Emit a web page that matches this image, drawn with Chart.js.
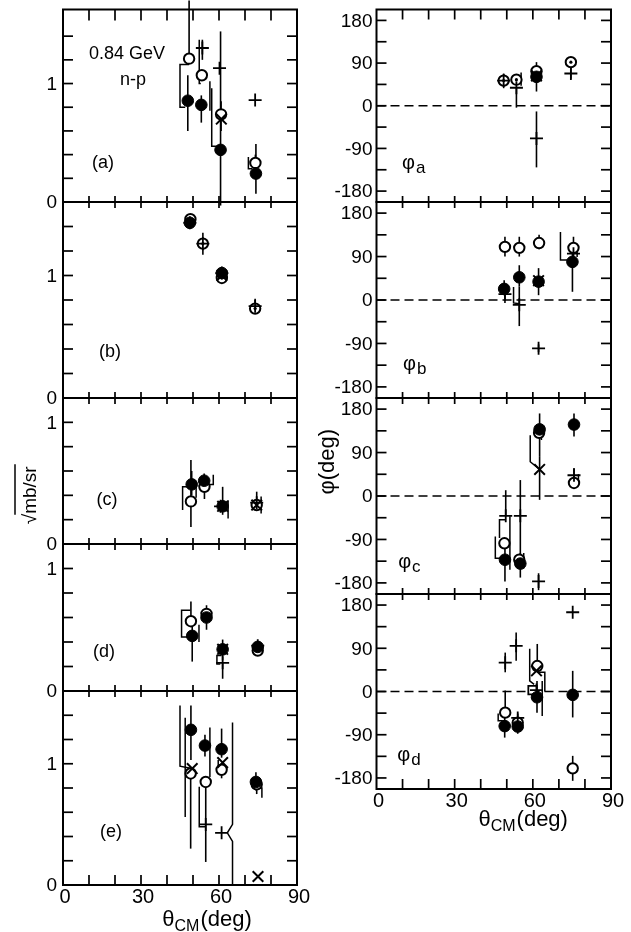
<!DOCTYPE html>
<html>
<head>
<meta charset="utf-8">
<script src="https://cdn.jsdelivr.net/npm/chart.js@4.4.1/dist/chart.umd.min.js"></script>
<style>
  html, body { margin: 0; padding: 0; background: #fff; }
  #fig { position: relative; width: 631px; height: 932px; overflow: hidden; }
  #fig canvas { position: absolute; left: 0; top: 0; }
</style>
</head>
<body>
<div id="fig"></div>
<script>
// ---- axis ticks and labels ----
const thetaMinorTicks = [10, 20, 30, 40, 50, 60, 70, 80];
const thetaTickLabels = [0, 30, 60, 90];
const ampTicksTall = [0.2, 0.4, 0.6, 0.8, 1.0, 1.2, 1.4];
const ampTicksShort = [0.2, 0.4, 0.6, 0.8, 1.0];
const ampTickLabels = [0, 1];
const phaseTicks = [-180, -135, -90, -45, 0, 45, 90, 135, 180];
const phaseTickLabels = [180, 90, 0, -90, -180];

// ---- amplitudes (sqrt(mb/sr)); each entry: [theta_CM, value, errLow, errHigh] ----
const ampA_filled = [[48.0, 0.855, 0.60, 1.07], [53.2, 0.82, 0.67, 0.90], [60.6, 0.44, -0.03, 1.44], [74.2, 0.24, 0.07, 0.49]];
const ampA_open   = [[48.5, 1.21, 1.21, 1.70], [53.4, 1.07], [60.8, 0.74, 0.60, 0.85], [74.0, 0.33, 0.33, 0.40]];
const ampA_plus   = [[53.6, 1.30, 1.20, 1.37], [60.2, 1.13], [73.9, 0.86]];
const ampA_cross  = [[60.9, 0.70]];
const ampA_links  = [
  [[48.5, 1.16], [45.0, 1.16], [45.0, 0.80], [47.0, 0.80]],
  [[52.4, 1.37], [52.4, 1.00], [53.0, 1.00]],
  [[56.5, 1.02], [56.5, 0.77]],
  [[57.2, 0.96], [57.2, 0.47], [60.0, 0.47]],
  [[71.3, 0.38], [71.3, 0.28], [72.8, 0.28]]
];

const ampB_filled = [[48.8, 1.43], [61.1, 1.02]];
const ampB_open   = [[49.0, 1.46], [53.8, 1.26], [61.1, 0.98], [73.9, 0.73]];
const ampB_plus   = [[48.8, 1.43], [53.8, 1.26, 1.17, 1.35], [61.1, 1.02], [73.9, 0.75, 0.75, 0.81]];
const ampB_cross  = [[61.1, 1.00]];
const ampB_dot    = [[53.8, 1.26], [73.9, 0.73]];

const ampC_filled = [[49.5, 0.49, 0.40, 0.60], [54.3, 0.52, 0.45, 0.58], [61.4, 0.31, 0.24, 0.47]];
const ampC_open   = [[49.2, 0.35, 0.14, 0.69], [54.4, 0.47, 0.37, 0.57], [74.5, 0.32, 0.28, 0.43]];
const ampC_plus   = [[60.6, 0.31], [74.5, 0.34]];
const ampC_cross  = [[61.4, 0.31], [74.5, 0.32]];
const ampC_links  = [
  [[49.2, 0.47], [46.0, 0.47], [46.0, 0.28]],
  [[51.2, 0.47], [51.2, 0.38]],
  [[54.6, 0.49], [57.8, 0.49], [57.8, 0.57]],
  [[63.5, 0.36], [63.5, 0.21]],
  [[76.2, 0.39], [76.2, 0.25]]
];

const ampD_filled = [[49.7, 0.45, 0.24, 0.56], [55.2, 0.60, 0.50, 0.70], [61.4, 0.34, 0.25, 0.42], [74.9, 0.36, 0.32, 0.40]];
const ampD_open   = [[49.2, 0.57, 0.57, 0.73], [55.2, 0.63], [74.9, 0.33]];
const ampD_plus   = [[61.4, 0.23, 0.10, 0.23], [74.9, 0.37]];
const ampD_cross  = [[61.4, 0.34]];
const ampD_links  = [
  [[49.0, 0.66], [45.6, 0.66], [45.6, 0.44], [48.5, 0.44]],
  [[52.3, 0.54], [52.3, 0.40]],
  [[61.0, 0.29], [59.2, 0.29], [59.2, 0.22], [60.5, 0.22]]
];

const ampE_filled = [[49.2, 1.28, 1.03, 1.48], [54.6, 1.15, 1.06, 1.24], [61.0, 1.12, 1.05, 1.29], [74.2, 0.85, 0.78, 0.93]];
const ampE_open   = [[49.1, 0.92, 0.30, 0.92], [54.9, 0.85, 0.19, 0.85], [61.0, 0.95, 0.88, 0.95], [74.5, 0.83, 0.75, 0.83]];
const ampE_plus   = [[54.9, 0.50], [61.0, 0.43]];
const ampE_cross  = [[49.7, 0.96], [61.4, 1.01], [75.0, 0.07]];
const ampE_links  = [
  [[45.0, 1.48], [45.0, 0.98], [49.5, 0.96]],
  [[47.0, 1.38], [47.0, 0.56]],
  [[52.4, 0.81], [52.4, 0.48], [54.9, 0.48]],
  [[56.5, 1.30], [56.5, 0.89]],
  [[59.7, 1.03], [59.7, 0.92]],
  [[65.2, 1.34], [65.2, 0.50], [63.2, 0.43], [65.2, 0.36], [65.2, 0.00]],
  [[75.2, 0.80], [76.5, 0.80], [76.5, 0.72]]
];

// ---- phases (deg); each entry: [theta_CM, phase, errLow, errHigh] ----
const phiA_filled = [[61.4, 61, 30, 92]];
const phiA_open   = [[48.8, 53, 37, 68], [53.7, 55], [61.4, 73], [74.6, 92]];
const phiA_dot    = [[48.8, 53], [53.7, 55], [74.6, 92]];
const phiA_plus   = [[48.8, 53], [53.7, 38, -4, 38], [61.4, -69, -130, -12], [74.6, 68, 57, 82]];
const phiA_cross  = [[61.4, 63]];
const phiA_links  = [[[55.5, 70], [55.5, 42]]];

const phiB_filled = [[49.0, 23, 10, 41], [54.8, 47, 28, 72], [62.2, 38, 10, 66], [75.2, 79, 17, 103]];
const phiB_open   = [[49.3, 110, 90, 131], [54.8, 108, 90, 131], [62.4, 118, 105, 135], [75.6, 108, 108, 131]];
const phiB_plus   = [[49.3, 12, -6, 12], [54.8, -10, -54, 28], [62.2, -100, -108, -92], [75.6, 96]];
const phiB_cross  = [[62.2, 40]];
const phiB_links  = [
  [[52.6, 27], [52.6, -6], [54.8, -8]],
  [[70.6, 141], [70.6, 83], [74.0, 83]],
  [[75.6, 100], [77.0, 100], [77.0, 89]]
];

const phiC_filled = [[49.3, -132, -177, -97], [55.2, -140, -169, -118], [62.6, 138, 81, 171], [75.8, 148, 123, 171]];
const phiC_open   = [[49.1, -98], [54.8, -132], [62.4, 131], [75.8, 27, 27, 43]];
const phiC_plus   = [[49.6, -41, -41, 12], [55.2, -41, -146, 33], [62.2, -177, -195, -160], [75.8, 43, 43, 58]];
const phiC_cross  = [[62.6, 55, -8, 81]];
const phiC_links  = [
  [[49.6, -49], [47.2, -49], [47.2, -87]],
  [[45.6, -84], [45.6, -129], [48.5, -129]],
  [[51.2, -42], [51.2, -153]],
  [[56.5, -118], [56.5, -150]],
  [[59.0, 126], [59.0, 71], [62.6, 55]],
  [[63.3, 130], [63.3, 116]],
  [[77.5, 45], [77.5, 30]]
];

const phiD_filled = [[49.2, -72, -96, -44], [54.2, -73, -88, -46], [61.6, -12, -44, 22], [75.3, -7, -54, 43]];
const phiD_open   = [[49.4, -44, -44, 2], [54.2, -65], [61.7, 53, 53, 99], [75.3, -160, -186, -134]];
const phiD_plus   = [[49.4, 60, 40, 81], [53.6, 95, 64, 123], [54.2, -55], [61.4, 3], [75.3, 165]];
const phiD_cross  = [[61.4, 43]];
const phiD_square = [[59.9, 3]];
const phiD_links  = [
  [[46.7, -46], [46.7, -61], [48.5, -61]],
  [[58.8, 89], [58.8, 22], [60.5, 15]],
  [[63.6, 22], [63.6, -51]],
  [[62.0, 40], [64.6, 40], [64.6, 0]]
];

// ---- drawing ----
const W = 631, H = 932;
const FONT = '"Liberation Sans", Arial, sans-serif';
const fig = document.getElementById('fig');

const toPoints = rows => rows.map(r => ({ x: r[0], y: r[1], lo: r.length > 2 ? r[2] : undefined, hi: r.length > 3 ? r[3] : undefined }));

// marker appearance for each kind of symbol; lower order is painted on top
const markerStyles = {
  open:   { pointStyle: 'circle',   pointRadius: 5.2, backgroundColor: '#fff', borderColor: '#000', borderWidth: 2,   order: 4 },
  square: { pointStyle: 'rect',     pointRadius: 6,   backgroundColor: '#fff', borderColor: '#000', borderWidth: 1.8, order: 3.5 },
  filled: { pointStyle: 'circle',   pointRadius: 5.8, backgroundColor: '#000', borderColor: '#000', borderWidth: 1,   order: 3 },
  cross:  { pointStyle: 'crossRot', pointRadius: 7.5, backgroundColor: '#000', borderColor: '#000', borderWidth: 2,   order: 2 },
  plus:   { pointStyle: 'cross',    pointRadius: 6.5, backgroundColor: '#000', borderColor: '#000', borderWidth: 1.8, order: 1 },
  dot:    { pointStyle: 'circle',   pointRadius: 1.6, backgroundColor: '#000', borderColor: '#000', borderWidth: 0,   order: 0 }
};

function makePanelPlugin(def) {
  const seg = (ctx, x1, y1, x2, y2) => { ctx.beginPath(); ctx.moveTo(x1, y1); ctx.lineTo(x2, y2); ctx.stroke(); };
  return {
    id: 'panel_' + def.id,
    beforeDatasetsDraw(chart) {
      const { ctx, chartArea: a } = chart;
      const xs = chart.scales.x, ys = chart.scales.y;
      ctx.save();
      ctx.strokeStyle = '#000';
      ctx.fillStyle = '#000';
      if (def.zeroDash) {
        ctx.lineWidth = 1.3;
        ctx.setLineDash([9, 5]);
        const p = ys.getPixelForValue(0);
        seg(ctx, a.left, p, a.right, p);
        ctx.setLineDash([]);
      }
      ctx.lineWidth = 2;
      ctx.strokeRect(a.left, a.top, a.right - a.left, a.bottom - a.top);
      ctx.lineWidth = 1.7;
      def.yTicks.forEach(v => {
        const p = ys.getPixelForValue(v);
        seg(ctx, a.left, p, a.left + 10, p);
        seg(ctx, a.right - 10, p, a.right, p);
      });
      thetaMinorTicks.forEach(v => {
        const p = xs.getPixelForValue(v);
        seg(ctx, p, a.top, p, a.top + def.topLen);
        seg(ctx, p, a.bottom - def.botLen, p, a.bottom);
      });
      // tick labels on the left
      ctx.font = '19px ' + FONT;
      ctx.textAlign = 'right';
      ctx.textBaseline = 'middle';
      def.yLabels.forEach(v => ctx.fillText(String(v), a.left - def.labelGap, ys.getPixelForValue(v) + 1));
      // error bars
      ctx.lineWidth = 1.6;
      chart.data.datasets.forEach(ds => {
        if (!ds.errorBars) return;
        ds.data.forEach(pt => {
          if (pt.lo === undefined) return;
          const px = xs.getPixelForValue(pt.x);
          seg(ctx, px, ys.getPixelForValue(pt.lo), px, ys.getPixelForValue(pt.hi));
        });
      });
      ctx.restore();
    },
    afterDatasetsDraw(chart) {
      const { ctx, chartArea: a } = chart;
      const xs = chart.scales.x, ys = chart.scales.y;
      ctx.save();
      ctx.fillStyle = '#000';
      ctx.strokeStyle = '#000';
      (def.texts || []).forEach(t => {
        const px = xs.getPixelForValue(t.x), py = ys.getPixelForValue(t.y);
        ctx.font = t.font;
        if (t.sub) {
          ctx.textAlign = 'left';
          ctx.textBaseline = 'alphabetic';
          ctx.fillText(t.text, px, py);
          const w = ctx.measureText(t.text).width;
          ctx.font = t.subFont;
          ctx.fillText(t.sub, px + w + 1, py + 4);
        } else {
          ctx.textAlign = 'center';
          ctx.textBaseline = 'middle';
          ctx.fillText(t.text, px, py);
        }
      });
      if (def.xLabels) {
        ctx.font = '20px ' + FONT;
        ctx.textAlign = 'center';
        ctx.textBaseline = 'middle';
        thetaTickLabels.forEach(v => ctx.fillText(String(v), xs.getPixelForValue(v) + 2, a.bottom + 12));
        // theta_CM (deg) title
        const big = '22px ' + FONT, small = '16px ' + FONT;
        ctx.font = big; const w1 = ctx.measureText('θ').width, w3 = ctx.measureText('(deg)').width;
        ctx.font = small; const w2 = ctx.measureText('CM').width;
        const total = w1 + w2 + w3 + 1;
        let x0 = xs.getPixelForValue(def.xTitleAt) - total / 2;
        const base = a.bottom + def.xTitleDrop;
        ctx.textAlign = 'left';
        ctx.textBaseline = 'alphabetic';
        ctx.font = big; ctx.fillText('θ', x0, base);
        ctx.font = small; ctx.fillText('CM', x0 + w1, base + 5);
        ctx.font = big; ctx.fillText('(deg)', x0 + w1 + w2 + 1, base);
      }
      if (def.yTitle) {
        const yt = def.yTitle;
        const cx = a.left - yt.dx, cy = ys.getPixelForValue(yt.at);
        ctx.translate(cx, cy);
        ctx.rotate(-Math.PI / 2);
        ctx.font = yt.font;
        ctx.textAlign = 'left';
        ctx.textBaseline = 'alphabetic';
        const wHead = ctx.measureText(yt.head).width, wBody = ctx.measureText(yt.body).width;
        const x0 = -(wHead + wBody) / 2;
        ctx.fillText(yt.head, x0, 7);
        ctx.fillText(yt.body, x0 + wHead, 7);
        if (yt.overline) {
          ctx.lineWidth = 1.5;
          seg(ctx, x0 + wHead - 1, -14, x0 + wHead + wBody + 2, -14);
        }
      }
      ctx.restore();
    }
  };
}

function buildPanel(def) {
  const canvas = document.createElement('canvas');
  canvas.width = W; canvas.height = H;
  canvas.style.width = W + 'px'; canvas.style.height = H + 'px';
  fig.appendChild(canvas);

  const datasets = [];
  (def.links || []).forEach(link => datasets.push({
    type: 'line',
    data: link.map(p => ({ x: p[0], y: p[1] })),
    borderColor: '#000', borderWidth: 1.5, pointRadius: 0, fill: false, tension: 0,
    clip: false, order: 5
  }));
  Object.keys(def.series).forEach(kind => datasets.push(Object.assign({
    label: kind,
    data: toPoints(def.series[kind]),
    errorBars: true,
    clip: false
  }, markerStyles[kind])));

  const [l, t, r, b] = def.rect;
  new Chart(canvas, {
    type: 'scatter',
    data: { datasets },
    options: {
      responsive: false,
      animation: false,
      devicePixelRatio: 1,
      events: [],
      layout: { padding: { left: l, top: t, right: W - r, bottom: H - b } },
      scales: {
        x: { type: 'linear', min: 0, max: 90, display: false },
        y: { type: 'linear', min: def.y[0], max: def.y[1], display: false }
      },
      plugins: { legend: { display: false }, tooltip: { enabled: false } }
    },
    plugins: [makePanelPlugin(def)]
  });
}

const LEFT_X = [63, 297], RIGHT_X = [376.5, 611];
const labelFont = '18px ' + FONT;
const phiMain = '20px ' + FONT, phiSub = '17px ' + FONT;

const panelDefs = [
  { id: 'a', rect: [LEFT_X[0], 7, LEFT_X[1], 202], y: [0, 1.625], yTicks: ampTicksTall, yLabels: ampTickLabels, labelGap: 6, topLen: 11, botLen: 6,
    series: { open: ampA_open, filled: ampA_filled, cross: ampA_cross, plus: ampA_plus }, links: ampA_links,
    texts: [ { x: 24.6, y: 1.25, text: '0.84 GeV', font: labelFont }, { x: 26.9, y: 1.03, text: 'n-p', font: labelFont }, { x: 15.4, y: 0.33, text: '(a)', font: labelFont } ] },
  { id: 'b', rect: [LEFT_X[0], 202, LEFT_X[1], 398], y: [0, 1.6], yTicks: ampTicksTall, yLabels: ampTickLabels, labelGap: 6, topLen: 6, botLen: 6,
    series: { open: ampB_open, filled: ampB_filled, cross: ampB_cross, plus: ampB_plus, dot: ampB_dot },
    texts: [ { x: 18.1, y: 0.375, text: '(b)', font: labelFont } ] },
  { id: 'c', rect: [LEFT_X[0], 398, LEFT_X[1], 544], y: [0, 1.2], yTicks: ampTicksShort, yLabels: ampTickLabels, labelGap: 6, topLen: 6, botLen: 6,
    series: { open: ampC_open, filled: ampC_filled, cross: ampC_cross, plus: ampC_plus }, links: ampC_links,
    texts: [ { x: 16.9, y: 0.36, text: '(c)', font: labelFont } ],
    yTitle: { dx: 34, at: 0.40, head: '√', body: 'mb/sr', font: '19px ' + FONT, overline: true } },
  { id: 'd', rect: [LEFT_X[0], 544, LEFT_X[1], 691], y: [0, 1.2], yTicks: ampTicksShort, yLabels: ampTickLabels, labelGap: 6, topLen: 6, botLen: 6,
    series: { open: ampD_open, filled: ampD_filled, cross: ampD_cross, plus: ampD_plus }, links: ampD_links,
    texts: [ { x: 15.8, y: 0.32, text: '(d)', font: labelFont } ] },
  { id: 'e', rect: [LEFT_X[0], 691, LEFT_X[1], 885], y: [0, 1.6], yTicks: ampTicksTall, yLabels: ampTickLabels, labelGap: 6, topLen: 6, botLen: 10,
    series: { open: ampE_open, filled: ampE_filled, cross: ampE_cross, plus: ampE_plus }, links: ampE_links,
    texts: [ { x: 18.5, y: 0.44, text: '(e)', font: labelFont } ],
    xLabels: true, xTitleAt: 55.4, xTitleDrop: 41 },

  { id: 'pa', rect: [RIGHT_X[0], 7, RIGHT_X[1], 202], y: [-203, 203], yTicks: phaseTicks, yLabels: phaseTickLabels, labelGap: 4, topLen: 10, botLen: 6, zeroDash: true,
    series: { open: phiA_open, filled: phiA_filled, cross: phiA_cross, plus: phiA_plus, dot: phiA_dot }, links: phiA_links,
    texts: [ { x: 9.8, y: -134, text: 'φ', sub: 'a', font: phiMain, subFont: phiSub } ] },
  { id: 'pb', rect: [RIGHT_X[0], 202, RIGHT_X[1], 398], y: [-203, 203], yTicks: phaseTicks, yLabels: phaseTickLabels, labelGap: 4, topLen: 6, botLen: 6, zeroDash: true,
    series: { open: phiB_open, filled: phiB_filled, cross: phiB_cross, plus: phiB_plus }, links: phiB_links,
    texts: [ { x: 10.2, y: -144, text: 'φ', sub: 'b', font: phiMain, subFont: phiSub } ] },
  { id: 'pc', rect: [RIGHT_X[0], 398, RIGHT_X[1], 594], y: [-203, 203], yTicks: phaseTicks, yLabels: phaseTickLabels, labelGap: 4, topLen: 6, botLen: 6, zeroDash: true,
    series: { open: phiC_open, filled: phiC_filled, cross: phiC_cross, plus: phiC_plus }, links: phiC_links,
    texts: [ { x: 8.3, y: -150, text: 'φ', sub: 'c', font: phiMain, subFont: phiSub } ],
    yTitle: { dx: 50, at: 71, head: 'φ', body: '(deg)', font: '22px ' + FONT, overline: false } },
  { id: 'pd', rect: [RIGHT_X[0], 594, RIGHT_X[1], 789], y: [-203, 203], yTicks: phaseTicks, yLabels: phaseTickLabels, labelGap: 4, topLen: 6, botLen: 10, zeroDash: true,
    series: { open: phiD_open, square: phiD_square, filled: phiD_filled, cross: phiD_cross, plus: phiD_plus }, links: phiD_links,
    texts: [ { x: 8.0, y: -145, text: 'φ', sub: 'd', font: phiMain, subFont: phiSub } ],
    xLabels: true, xTitleAt: 56.3, xTitleDrop: 37 }
];

panelDefs.forEach(buildPanel);
</script>
</body>
</html>
